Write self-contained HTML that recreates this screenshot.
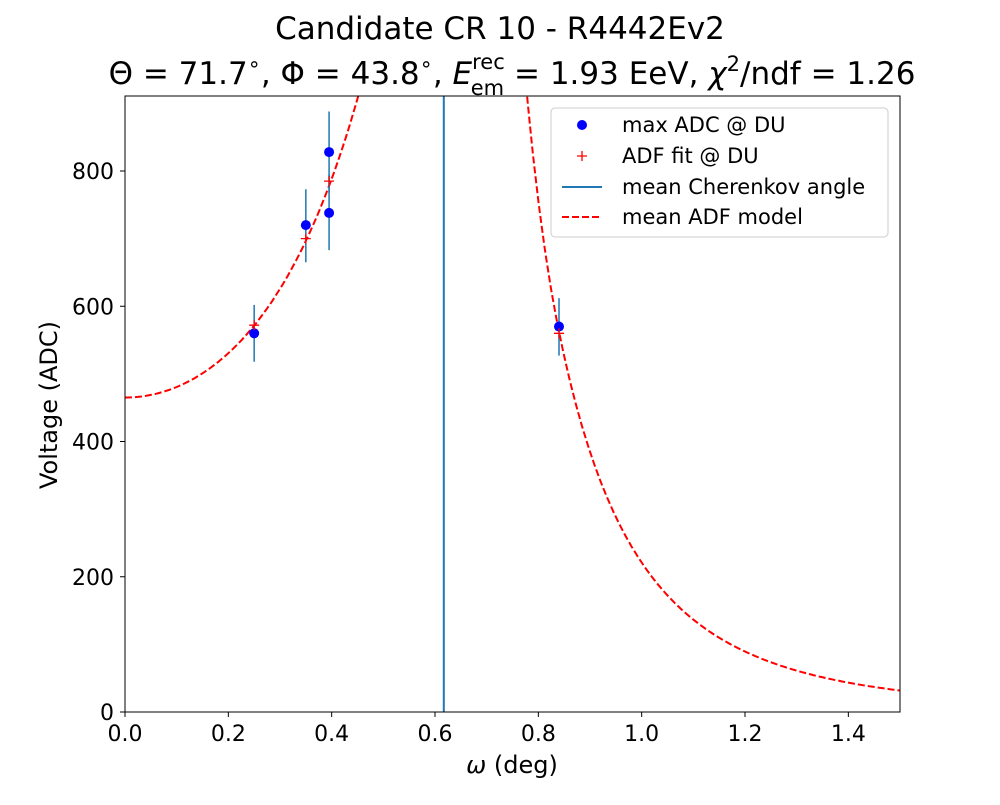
<!DOCTYPE html>
<html><head><meta charset="utf-8"><style>
body{margin:0;background:#fff;}
svg text{font-family:"DejaVu Sans","Liberation Sans",sans-serif;}
</style></head><body>
<svg id="s" width="1000" height="800" xmlns="http://www.w3.org/2000/svg">
<rect width="1000" height="800" fill="#fff"/>
<text x="500" y="39" font-size="31" text-anchor="middle">Candidate CR 10 - R4442Ev2</text>
<text x="512" y="84" font-size="31" text-anchor="middle">Θ = 71.7<tspan dy="-13" font-size="21">∘</tspan><tspan dy="13">, Φ = 43.8</tspan><tspan dy="-13" font-size="21">∘</tspan><tspan dy="13">, </tspan><tspan font-style="italic">E</tspan><tspan dy="-15" font-size="21">rec</tspan><tspan dx="-34" dy="26" font-size="21">em</tspan><tspan dy="-11"> = 1.93 EeV, </tspan><tspan font-style="italic">χ</tspan><tspan dy="-13" font-size="21">2</tspan><tspan dy="13">/ndf = 1.26</tspan></text>
<defs><clipPath id="c"><rect x="125" y="96" width="775" height="616"/></clipPath></defs>
<g id="plot" clip-path="url(#c)"></g>
<rect x="125" y="96" width="775" height="616" fill="none" stroke="#000" stroke-width="1"/>
<g id="ticks" font-size="22"></g>
<text x="512" y="773" font-size="24" text-anchor="middle"><tspan font-style="italic">ω</tspan> (deg)</text>
<text transform="translate(57,405) rotate(-90)" font-size="24" text-anchor="middle">Voltage (ADC)</text>
<g>
<rect x="551" y="108" width="337" height="129" rx="4" fill="#fff" stroke="#ccc"/>
<circle cx="582" cy="125" r="5" fill="#0000ff"/>
<text x="622" y="132" font-size="21">max ADC @ DU</text>
<path d="M577 156h10M582 151v10" stroke="red" stroke-width="1.3"/>
<text x="622" y="163" font-size="21">ADF fit @ DU</text>
<path d="M562 187h40" stroke="#1f77b4" stroke-width="2"/>
<text x="622" y="194" font-size="21">mean Cherenkov angle</text>
<path d="M562 217h40" stroke="red" stroke-width="2" stroke-dasharray="7,3"/>
<text x="622" y="224" font-size="21">mean ADF model</text>
</g>
</svg>
<script>
const X=x=>125+x*516.67, Y=v=>712-v*0.67625;
const NS="http://www.w3.org/2000/svg";
function el(t,a,p){const e=document.createElementNS(NS,t);for(const k in a)e.setAttribute(k,a[k]);(p||document.getElementById('plot')).appendChild(e);return e;}
let d="";
for(let x=0;x<=0.47;x+=0.005){const v=465*Math.exp(3.3*x*x);d+=(d?"L":"M")+X(x).toFixed(1)+" "+Y(v).toFixed(1);}
el('path',{d:d,fill:"none",stroke:"red","stroke-width":2,"stroke-dasharray":"7,3"});
function f(x){
 const b=61.2/Math.pow(x-0.3,3.6);
 // steepen near top so it crosses ~0.745
 const w=Math.max(0,(0.84-x)/0.1);
 return b*(1+0.12*w*w);
}
d="";
for(let x=0.7;x<=1.5001;x+=0.004){d+=(d?"L":"M")+X(x).toFixed(1)+" "+Y(f(x)).toFixed(1);}
el('path',{d:d,fill:"none",stroke:"red","stroke-width":2,"stroke-dasharray":"7,3"});
el('line',{x1:X(0.617),x2:X(0.617),y1:96,y2:712,stroke:"#1f77b4","stroke-width":2});
const P=[[0.25,560,518,602],[0.35,720,665,773],[0.395,828,768,888],[0.395,738,683,795],[0.84,570,527,612]];
P.forEach(p=>el('line',{x1:X(p[0]),x2:X(p[0]),y1:Y(p[2]),y2:Y(p[3]),stroke:"#1f77b4","stroke-width":1.5}));
P.forEach(p=>el('circle',{cx:X(p[0]),cy:Y(p[1]),r:5,fill:"#0000ff"}));
[[0.25,572],[0.35,700],[0.395,785],[0.84,560]].forEach(p=>{const x=X(p[0]),y=Y(p[1]);el('path',{d:`M${x-5} ${y}h10M${x} ${y-5}v10`,stroke:"red","stroke-width":1.3});});
const T=document.getElementById('ticks');
[0,0.2,0.4,0.6,0.8,1.0,1.2,1.4].forEach(v=>{const x=X(v);el('line',{x1:x,x2:x,y1:712,y2:717,stroke:"#000"},T);const t=el('text',{x:x,y:741,"text-anchor":"middle"},T);t.textContent=v.toFixed(1);});
[0,200,400,600,800].forEach(v=>{const y=Y(v);el('line',{x1:120,x2:125,y1:y,y2:y,stroke:"#000"},T);const t=el('text',{x:114,y:y+8,"text-anchor":"end"},T);t.textContent=v;});
</script>
</body></html>
